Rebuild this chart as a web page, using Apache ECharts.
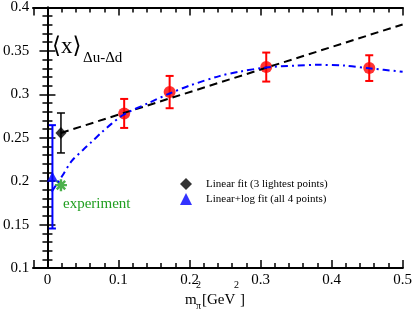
<!DOCTYPE html>
<html>
<head>
<meta charset="utf-8">
<script src="https://cdn.jsdelivr.net/npm/echarts@6/dist/echarts.min.js"></script>
<style>html,body{margin:0;padding:0;background:#fff}#c{width:415px;height:311px}</style>
</head>
<body>
<div id="c"></div>
<script>
// ---- data ----
const latticeX = [0.108, 0.172, 0.308, 0.453];
const latticeY = [0.278, 0.3026, 0.3314, 0.3302];
const latticeErr = [0.0167, 0.0186, 0.0167, 0.0148];

const linFitX = [0.019];
const linFitY = [0.2555];
const linFitErr = [0.023];

const logFitX = [0.007];
const logFitY = [0.205];
const logFitErr = [0.0595];

const expX = [0.019];
const expY = [0.1954];

const linLineX = [0.019, 0.5];
const linLineY = [0.2555, 0.3805];

const logCurveX = [0.006, 0.02, 0.034, 0.05, 0.062, 0.076, 0.09, 0.108, 0.145, 0.172, 0.2, 0.242, 0.27, 0.308, 0.35, 0.38, 0.42, 0.453, 0.5];
const logCurveY = [0.188, 0.205, 0.223, 0.236, 0.245, 0.256, 0.266, 0.277, 0.291, 0.301, 0.31, 0.321, 0.326, 0.331, 0.333, 0.334, 0.333, 0.330, 0.326];

const zip = (xs, ys) => xs.map((x, i) => [x, ys[i]]);
const zip3 = (xs, ys, es) => xs.map((x, i) => [x, ys[i], es[i]]);

const FONT = "'Liberation Serif', 'DejaVu Serif', serif";
const GREEN = '#1f9e1f';

function errRender(capW, color, lw) {
  return function (params, api) {
    const x = api.value(0), y = api.value(1), e = api.value(2);
    const t = api.coord([x, y + e]), b = api.coord([x, y - e]);
    const st = { stroke: color, lineWidth: lw };
    return {
      type: 'group',
      children: [
        { type: 'line', shape: { x1: t[0], y1: t[1], x2: b[0], y2: b[1] }, style: st },
        { type: 'line', shape: { x1: t[0] - capW / 2, y1: t[1], x2: t[0] + capW / 2, y2: t[1] }, style: st },
        { type: 'line', shape: { x1: b[0] - capW / 2, y1: b[1], x2: b[0] + capW / 2, y2: b[1] }, style: st }
      ]
    };
  };
}

const starPath = 'path://M-5,-1L5,-1L5,1L-5,1Z M-1,-5L1,-5L1,5L-1,5Z M-2.83,-4.24L4.24,2.83L2.83,4.24L-4.24,-2.83Z M-4.24,2.83L2.83,-4.24L4.24,-2.83L-2.83,4.24Z';

function majorLabel(v) {
  const r = Math.round(v * 10) / 10;
  return (Math.abs(v - r) < 1e-6 && v > -1e-6) ? String(r) : '';
}

const tickStyle = { color: '#000', width: 1.5 };
const frameLine = { show: true, lineStyle: { color: '#000', width: 2 } };
// data axis: frame line + labels
function dataX(pos, labels) {
  return {
    type: 'value', position: pos, min: -0.02, max: 0.5, interval: 0.02,
    splitLine: { show: false },
    axisLine: frameLine,
    axisTick: { show: false },
    axisLabel: labels
      ? { show: true, formatter: majorLabel, color: '#000', fontFamily: FONT, fontSize: 15, margin: 5 }
      : { show: false }
  };
}
// tick axes: same span mirrored (value v sits at m = -v), ticks every 0.1 from -0.5, minor every 0.02
function tickX(pos) {
  return {
    type: 'value', position: pos, inverse: true, min: -0.5, max: 0.02, interval: 0.1,
    splitLine: { show: false },
    axisLine: frameLine,
    axisTick: { show: true, inside: true, length: 8, lineStyle: tickStyle },
    minorTick: { show: true, splitNumber: 5, length: 5, lineStyle: tickStyle },
    axisLabel: { show: false }
  };
}
function yAx(pos, labels) {
  return {
    type: 'value', position: pos, min: 0.1, max: 0.4, interval: 0.05,
    splitLine: { show: false },
    axisLine: frameLine,
    axisTick: { show: true, inside: true, length: 8, lineStyle: tickStyle },
    minorTick: { show: true, splitNumber: 5, length: 5, lineStyle: tickStyle },
    axisLabel: labels ? { color: '#000', fontFamily: FONT, fontSize: 15, margin: 4 } : { show: false }
  };
}

const chart = echarts.init(document.getElementById('c'), null, { renderer: 'canvas' });
chart.setOption({
  animation: false,
  grid: { left: 31, right: 10, top: 7, bottom: 43 },
  xAxis: [dataX('bottom', true), tickX('bottom'), dataX('top', false), tickX('top')],
  yAxis: [yAx('left', true), yAx('right', false)],
  legend: {
    orient: 'vertical', left: 180, top: 178, padding: 0, itemGap: 3,
    itemWidth: 12, itemHeight: 12,
    textStyle: { fontFamily: FONT, fontSize: 11, color: '#000', padding: [0, 0, 0, 9] },
    data: [
      { name: 'Linear fit (3 lightest points)', icon: 'diamond', itemStyle: { color: '#000' } },
      { name: 'Linear+log fit (all 4 points)', icon: 'triangle', itemStyle: { color: '#0000ff' } }
    ]
  },
  series: [
    { type: 'custom', name: 'latErr', renderItem: errRender(8, '#ff0000', 2), data: zip3(latticeX, latticeY, latticeErr), z: 2, silent: true },
    { type: 'custom', name: 'linErr', renderItem: errRender(8, '#000', 1.5), data: zip3(linFitX, linFitY, linFitErr), z: 2, silent: true },
    { type: 'custom', name: 'logErr', renderItem: errRender(7, '#0000ff', 2), data: zip3(logFitX, logFitY, logFitErr), z: 2, silent: true },
    { type: 'scatter', name: 'lattice', data: zip(latticeX, latticeY), symbol: 'circle', symbolSize: 12, itemStyle: { color: '#ff0000' }, z: 3 },
    { type: 'scatter', name: 'Linear fit (3 lightest points)', data: zip(linFitX, linFitY), symbol: 'diamond', symbolSize: [11, 12], itemStyle: { color: '#000' }, z: 3 },
    { type: 'scatter', name: 'Linear+log fit (all 4 points)', data: zip(logFitX, logFitY), symbol: 'triangle', symbolSize: [11, 10], itemStyle: { color: '#0000ff' }, z: 3 },
    { type: 'scatter', name: 'experiment', data: zip(expX, expY), symbol: starPath, symbolSize: 12, itemStyle: { color: GREEN }, z: 3 },
    { type: 'line', name: 'linLine', data: zip(linLineX, linLineY), showSymbol: false, symbol: 'none', lineStyle: { color: '#000', width: 2, type: [8, 5] }, z: 4 },
    { type: 'line', name: 'logCurve', data: zip(logCurveX, logCurveY), smooth: 0.3, showSymbol: false, symbol: 'none', lineStyle: { color: '#0000ff', width: 2, type: [7, 4, 2, 4] }, z: 4 }
  ],
  graphic: [
    { type: 'text', left: 52, top: 35, style: { text: '⟨x⟩', font: "23px " + FONT, fill: '#000' } },
    { type: 'text', left: 83, top: 51, style: { text: 'Δu-Δd', font: "15px " + FONT, fill: '#000' } },
    { type: 'text', left: 63, top: 197, style: { text: 'experiment', font: "15px " + FONT, fill: GREEN } },
    { type: 'text', left: 185, top: 293, style: { text: 'm', font: "15px " + FONT, fill: '#000' } },
    { type: 'text', left: 196, top: 280, style: { text: '2', font: "10px " + FONT, fill: '#000' } },
    { type: 'text', left: 196, top: 301, style: { text: 'π', font: "10px " + FONT, fill: '#000' } },
    { type: 'text', left: 202, top: 293, style: { text: '[GeV', font: "15px " + FONT, fill: '#000' } },
    { type: 'text', left: 234, top: 280, style: { text: '2', font: "10px " + FONT, fill: '#000' } },
    { type: 'text', left: 240, top: 293, style: { text: ']', font: "15px " + FONT, fill: '#000' } }
  ]
});
</script>
</body>
</html>
